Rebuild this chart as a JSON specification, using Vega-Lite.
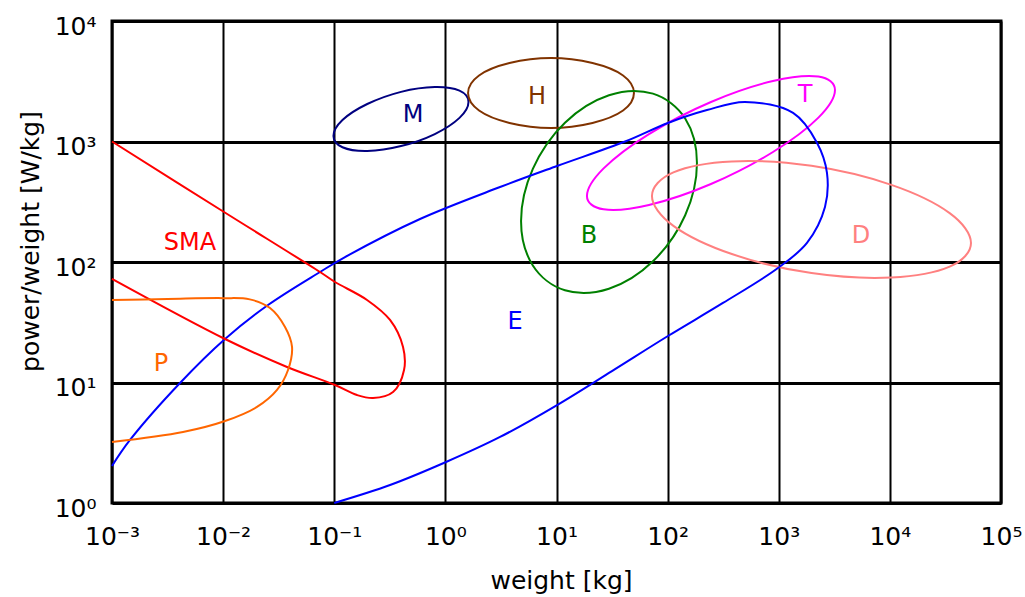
{
  "$schema": "https://vega.github.io/schema/vega-lite/v6.json",
  "width": 889,
  "height": 482,
  "autosize": {"type": "none"},
  "padding": {"left": 112, "top": 21, "right": 24, "bottom": 94},
  "background": "white",
  "config": {
    "font": "DejaVu Sans",
    "view": {"stroke": "black", "strokeWidth": 3}
  },
  "datasets": {
    "curves": [
      {"s": "E", "i": 0, "lw": -3.0, "lp": 0.307},
      {"s": "E", "i": 1, "lw": -2.838, "lp": 0.523},
      {"s": "E", "i": 2, "lw": -2.388, "lp": 0.996},
      {"s": "E", "i": 3, "lw": -1.983, "lp": 1.361},
      {"s": "E", "i": 4, "lw": -1.596, "lp": 1.643},
      {"s": "E", "i": 5, "lw": -1.128, "lp": 1.917},
      {"s": "E", "i": 6, "lw": -0.903, "lp": 2.041},
      {"s": "E", "i": 7, "lw": -0.228, "lp": 2.357},
      {"s": "E", "i": 8, "lw": 0.492, "lp": 2.622},
      {"s": "E", "i": 9, "lw": 1.005, "lp": 2.797},
      {"s": "E", "i": 10, "lw": 1.617, "lp": 3.0},
      {"s": "E", "i": 11, "lw": 2.003, "lp": 3.154},
      {"s": "E", "i": 12, "lw": 2.354, "lp": 3.261},
      {"s": "E", "i": 13, "lw": 2.696, "lp": 3.328},
      {"s": "E", "i": 14, "lw": 3.129, "lp": 3.237},
      {"s": "E", "i": 15, "lw": 3.345, "lp": 2.988},
      {"s": "E", "i": 16, "lw": 3.434, "lp": 2.739},
      {"s": "E", "i": 17, "lw": 3.416, "lp": 2.456},
      {"s": "E", "i": 18, "lw": 3.254, "lp": 2.158},
      {"s": "E", "i": 19, "lw": 2.993, "lp": 1.95},
      {"s": "E", "i": 20, "lw": 2.498, "lp": 1.66},
      {"s": "E", "i": 21, "lw": 2.003, "lp": 1.386},
      {"s": "E", "i": 22, "lw": 1.499, "lp": 1.095},
      {"s": "E", "i": 23, "lw": 1.005, "lp": 0.813},
      {"s": "E", "i": 24, "lw": 0.492, "lp": 0.548},
      {"s": "E", "i": 25, "lw": 0.006, "lp": 0.34},
      {"s": "E", "i": 26, "lw": -0.498, "lp": 0.149},
      {"s": "E", "i": 27, "lw": -1.0, "lp": 0.0},

      {"s": "SMA", "i": 0, "lw": -3.0, "lp": 3.0},
      {"s": "SMA", "i": 1, "lw": -1.992, "lp": 2.415},
      {"s": "SMA", "i": 2, "lw": -1.128, "lp": 1.917},
      {"s": "SMA", "i": 3, "lw": -0.993, "lp": 1.834},
      {"s": "SMA", "i": 4, "lw": -0.705, "lp": 1.685},
      {"s": "SMA", "i": 5, "lw": -0.498, "lp": 1.519},
      {"s": "SMA", "i": 6, "lw": -0.381, "lp": 1.295},
      {"s": "SMA", "i": 7, "lw": -0.372, "lp": 1.104},
      {"s": "SMA", "i": 8, "lw": -0.471, "lp": 0.921},
      {"s": "SMA", "i": 9, "lw": -0.651, "lp": 0.871},
      {"s": "SMA", "i": 10, "lw": -0.795, "lp": 0.896},
      {"s": "SMA", "i": 11, "lw": -0.993, "lp": 0.979},
      {"s": "SMA", "i": 12, "lw": -1.425, "lp": 1.129},
      {"s": "SMA", "i": 13, "lw": -1.983, "lp": 1.361},
      {"s": "SMA", "i": 14, "lw": -3.0, "lp": 1.86},

      {"s": "P", "i": 0, "lw": -3.0, "lp": 1.685},
      {"s": "P", "i": 1, "lw": -2.5, "lp": 1.693},
      {"s": "P", "i": 2, "lw": -2.0, "lp": 1.7},
      {"s": "P", "i": 3, "lw": -1.76, "lp": 1.69},
      {"s": "P", "i": 4, "lw": -1.578, "lp": 1.618},
      {"s": "P", "i": 5, "lw": -1.443, "lp": 1.461},
      {"s": "P", "i": 6, "lw": -1.38, "lp": 1.295},
      {"s": "P", "i": 7, "lw": -1.416, "lp": 1.104},
      {"s": "P", "i": 8, "lw": -1.515, "lp": 0.938},
      {"s": "P", "i": 9, "lw": -1.695, "lp": 0.797},
      {"s": "P", "i": 10, "lw": -1.983, "lp": 0.68},
      {"s": "P", "i": 11, "lw": -2.361, "lp": 0.589},
      {"s": "P", "i": 12, "lw": -3.0, "lp": 0.506},

      {"s": "M", "i": 0, "lw": 0.208, "lp": 3.328},
      {"s": "M", "i": 1, "lw": 0.127, "lp": 3.422},
      {"s": "M", "i": 2, "lw": -0.095, "lp": 3.452},
      {"s": "M", "i": 3, "lw": -0.399, "lp": 3.412},
      {"s": "M", "i": 4, "lw": -0.703, "lp": 3.311},
      {"s": "M", "i": 5, "lw": -0.926, "lp": 3.178},
      {"s": "M", "i": 6, "lw": -1.007, "lp": 3.046},
      {"s": "M", "i": 7, "lw": -0.926, "lp": 2.952},
      {"s": "M", "i": 8, "lw": -0.703, "lp": 2.921},
      {"s": "M", "i": 9, "lw": -0.399, "lp": 2.962},
      {"s": "M", "i": 10, "lw": -0.095, "lp": 3.062},
      {"s": "M", "i": 11, "lw": 0.127, "lp": 3.196},

      {"s": "H", "i": 0, "lw": 1.697, "lp": 3.402},
      {"s": "H", "i": 1, "lw": 1.599, "lp": 3.548},
      {"s": "H", "i": 2, "lw": 1.324, "lp": 3.651},
      {"s": "H", "i": 3, "lw": 0.951, "lp": 3.693},
      {"s": "H", "i": 4, "lw": 0.577, "lp": 3.651},
      {"s": "H", "i": 5, "lw": 0.303, "lp": 3.548},
      {"s": "H", "i": 6, "lw": 0.204, "lp": 3.402},
      {"s": "H", "i": 7, "lw": 0.303, "lp": 3.257},
      {"s": "H", "i": 8, "lw": 0.577, "lp": 3.154},
      {"s": "H", "i": 9, "lw": 0.951, "lp": 3.112},
      {"s": "H", "i": 10, "lw": 1.324, "lp": 3.154},
      {"s": "H", "i": 11, "lw": 1.599, "lp": 3.257},

      {"s": "B", "i": 0, "lw": 2.264, "lp": 2.822},
      {"s": "B", "i": 1, "lw": 2.158, "lp": 3.191},
      {"s": "B", "i": 2, "lw": 1.868, "lp": 3.397},
      {"s": "B", "i": 3, "lw": 1.472, "lp": 3.384},
      {"s": "B", "i": 4, "lw": 1.076, "lp": 3.156},
      {"s": "B", "i": 5, "lw": 0.787, "lp": 2.773},
      {"s": "B", "i": 6, "lw": 0.681, "lp": 2.34},
      {"s": "B", "i": 7, "lw": 0.787, "lp": 1.971},
      {"s": "B", "i": 8, "lw": 1.076, "lp": 1.765},
      {"s": "B", "i": 9, "lw": 1.472, "lp": 1.778},
      {"s": "B", "i": 10, "lw": 1.868, "lp": 2.006},
      {"s": "B", "i": 11, "lw": 2.158, "lp": 2.388},

      {"s": "T", "i": 0, "lw": 3.506, "lp": 3.427},
      {"s": "T", "i": 1, "lw": 3.357, "lp": 3.539},
      {"s": "T", "i": 2, "lw": 2.948, "lp": 3.502},
      {"s": "T", "i": 3, "lw": 2.39, "lp": 3.328},
      {"s": "T", "i": 4, "lw": 1.832, "lp": 3.062},
      {"s": "T", "i": 5, "lw": 1.424, "lp": 2.777},
      {"s": "T", "i": 6, "lw": 1.274, "lp": 2.548},
      {"s": "T", "i": 7, "lw": 1.424, "lp": 2.437},
      {"s": "T", "i": 8, "lw": 1.832, "lp": 2.473},
      {"s": "T", "i": 9, "lw": 2.39, "lp": 2.647},
      {"s": "T", "i": 10, "lw": 2.948, "lp": 2.913},
      {"s": "T", "i": 11, "lw": 3.357, "lp": 3.198},

      {"s": "D", "i": 0, "lw": 4.73, "lp": 2.158},
      {"s": "D", "i": 1, "lw": 4.538, "lp": 2.406},
      {"s": "D", "i": 2, "lw": 4.013, "lp": 2.64},
      {"s": "D", "i": 3, "lw": 3.295, "lp": 2.798},
      {"s": "D", "i": 4, "lw": 2.578, "lp": 2.835},
      {"s": "D", "i": 5, "lw": 2.052, "lp": 2.744},
      {"s": "D", "i": 6, "lw": 1.859, "lp": 2.548},
      {"s": "D", "i": 7, "lw": 2.052, "lp": 2.3},
      {"s": "D", "i": 8, "lw": 2.578, "lp": 2.066},
      {"s": "D", "i": 9, "lw": 3.295, "lp": 1.908},
      {"s": "D", "i": 10, "lw": 4.013, "lp": 1.871},
      {"s": "D", "i": 11, "lw": 4.538, "lp": 1.961}
    ],
    "labels": [
      {"s": "SMA", "lw": -2.298, "lp": 2.158},
      {"s": "P", "lw": -2.559, "lp": 1.154},
      {"s": "M", "lw": -0.291, "lp": 3.22},
      {"s": "H", "lw": 0.825, "lp": 3.369},
      {"s": "B", "lw": 1.293, "lp": 2.216},
      {"s": "E", "lw": 0.627, "lp": 1.502},
      {"s": "T", "lw": 3.236, "lp": 3.386},
      {"s": "D", "lw": 3.74, "lp": 2.216}
    ]
  },
  "encoding": {
    "x": {
      "field": "lw",
      "type": "quantitative",
      "scale": {"domain": [-3, 5], "nice": false, "zero": false},
      "axis": {
        "values": [-3, -2, -1, 0, 1, 2, 3, 4, 5],
        "labelExpr": "'10' + ['⁻³','⁻²','⁻¹','⁰','¹','²','³','⁴','⁵'][datum.value + 3]",
        "grid": true,
        "gridColor": "black",
        "gridWidth": 2,
        "gridOpacity": 1,
        "ticks": false,
        "domain": false,
        "labelFontSize": 25,
        "labelColor": "black",
        "labelPadding": 21,
        "labelFlush": false,
        "labelOverlap": false,
        "title": "weight [kg]",
        "titleFontSize": 25,
        "titleFontWeight": "normal",
        "titleColor": "black",
        "titleX": 449,
        "titleY": 77,
        "titleBaseline": "middle"
      }
    },
    "y": {
      "field": "lp",
      "type": "quantitative",
      "scale": {"domain": [0, 4], "nice": false, "zero": false},
      "axis": {
        "values": [0, 1, 2, 3, 4],
        "labelExpr": "'10' + ['⁰','¹','²','³','⁴'][datum.value]",
        "grid": true,
        "gridColor": "black",
        "gridWidth": 3,
        "gridOpacity": 1,
        "ticks": false,
        "domain": false,
        "labelFontSize": 25,
        "labelColor": "black",
        "labelPadding": 16,
        "labelOffset": 5,
        "labelFlush": false,
        "labelOverlap": false,
        "title": "power/weight [W/kg]",
        "titleFontSize": 25,
        "titleFontWeight": "normal",
        "titleColor": "black",
        "titleX": -82,
        "titleY": 220,
        "titleAngle": 270,
        "titleAlign": "center",
        "titleBaseline": "middle"
      }
    }
  },
  "layer": [
    {
      "data": {"name": "curves"},
      "transform": [{"filter": {"field": "s", "oneOf": ["M", "H", "B", "T", "D"]}}],
      "mark": {"type": "line", "interpolate": "cardinal-closed", "strokeWidth": 2},
      "encoding": {
        "color": {
          "field": "s",
          "type": "nominal",
          "scale": {
            "domain": ["E", "SMA", "P", "M", "H", "B", "T", "D"],
            "range": ["#0000ff", "#ff0000", "#ff6600", "#000080", "#803300", "#008000", "#ff00ff", "#ff8080"]
          },
          "legend": null
        },
        "order": {"field": "i", "type": "quantitative"}
      }
    },
    {
      "data": {"name": "curves"},
      "transform": [{"filter": {"field": "s", "oneOf": ["E", "SMA", "P"]}}],
      "mark": {"type": "line", "interpolate": "catmull-rom", "strokeWidth": 2},
      "encoding": {
        "color": {"field": "s", "type": "nominal", "legend": null},
        "order": {"field": "i", "type": "quantitative"}
      }
    },
    {
      "data": {"name": "labels"},
      "mark": {"type": "text", "fontSize": 24, "align": "center", "baseline": "middle"},
      "encoding": {
        "text": {"field": "s", "type": "nominal"},
        "color": {"field": "s", "type": "nominal", "legend": null}
      }
    }
  ]
}
